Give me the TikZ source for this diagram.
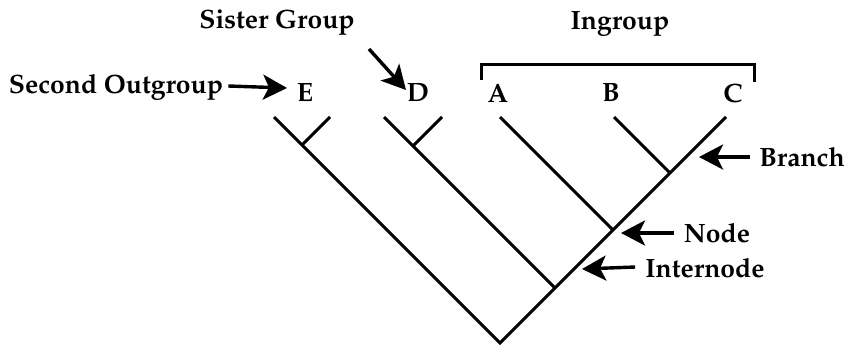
\documentclass[tikz,border=0pt]{standalone}
\usepackage[T1]{fontenc}
\renewcommand{\rmdefault}{ppl}
\usetikzlibrary{arrows.meta}
\begin{document}
\begin{tikzpicture}[x=1pt,y=-1pt,
  tree/.style={line width=2.9pt,line cap=butt},
  lbl/.style={font=\fontsize{26.5}{30}\selectfont\bfseries,inner sep=0pt},
  pointer/.style={line width=3.4pt,-{Stealth[length=24pt,width=25pt,inset=6pt]}}]
\useasboundingbox (0,0) rectangle (845,346);
% tree coordinates
\coordinate (root) at (500,343);
\coordinate (tE) at (274,117);
\coordinate (tC) at (726,117);
\coordinate (jD) at (555,288);
\coordinate (tD) at (384,117);
\coordinate (jA) at (613,230);
\coordinate (tA) at (500,117);
\coordinate (jB) at (670,173);
\coordinate (tB) at (614,117);
\coordinate (sE) at (330,117);
\coordinate (jsE) at (302,145);
\coordinate (sD) at (442,117);
\coordinate (jsD) at (413,146);
\draw[tree] (tE) -- (root) -- (tC);
\draw[tree] (jD) -- (tD);
\draw[tree] (jA) -- (tA);
\draw[tree] (jB) -- (tB);
\draw[tree] (jsE) -- (sE);
\draw[tree] (jsD) -- (sD);
% taxon labels
\node[lbl] (E) at (305,93) {E};
\node[lbl] (D) at (418,93) {D};
\node[lbl] (A) at (498,93) {A};
\node[lbl] (B) at (611,93) {B};
\node[lbl] (C) at (733,93) {C};
% ingroup bracket
\coordinate (brL) at (481,80);
\coordinate (brR) at (754,82);
\draw[line width=3pt] (brL) -- (481,64) -- (754,64) -- (brR);
\node[lbl] (ingroup) at (620,24) {Ingroup};
% annotations
\node[lbl] (second) at (116,87) {Second Outgroup};
\coordinate (secTip) at (287,88);
\draw[pointer] (second.east) ++(5pt,1pt) coordinate (secTail) -- (secTip);
\node[lbl] (sister) at (277,23) {Sister Group};
\coordinate (sisTail) at (369,49);
\coordinate (sisTip) at (406,90);
\draw[pointer] (sisTail) -- (sisTip);
\node[lbl] (branch) at (802,157) {Branch};
\coordinate (brTip) at (699,157);
\draw[pointer] (branch.west) ++(-9pt,0) coordinate (brTail) -- (brTip);
\node[lbl] (nodelbl) at (717,233) {Node};
\coordinate (ndTip) at (621,233);
\draw[pointer] (nodelbl.west) ++(-10pt,0) coordinate (ndTail) -- (ndTip);
\node[lbl] (internode) at (705,268) {Internode};
\coordinate (inTip) at (582,269);
\draw[pointer] (internode.west) ++(-10pt,1pt) coordinate (inTail) -- (inTip);
\end{tikzpicture}
\end{document}
